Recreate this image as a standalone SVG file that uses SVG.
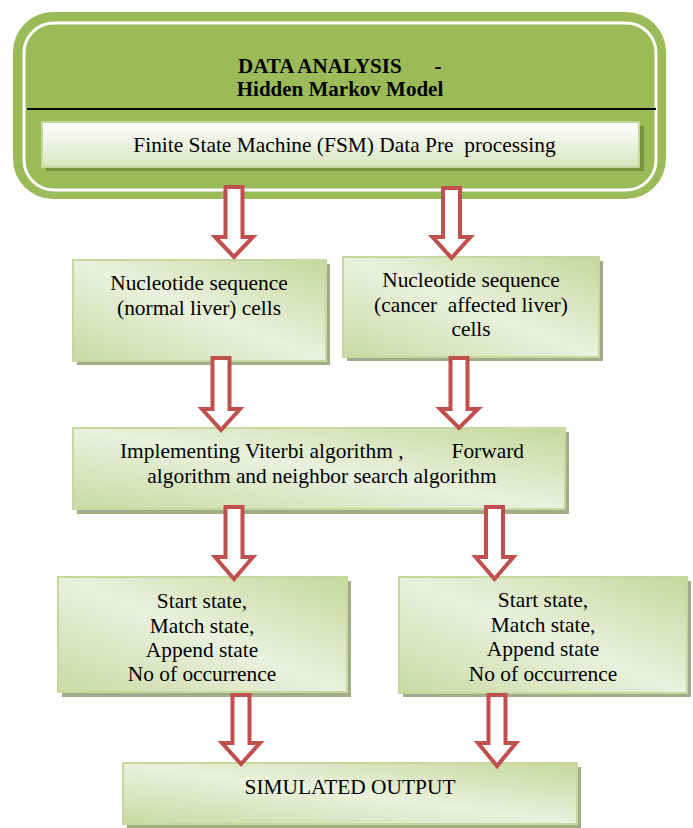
<svg xmlns="http://www.w3.org/2000/svg" width="693" height="828" viewBox="0 0 693 828">
<style>
.t{font-family:"Liberation Serif","Times New Roman",serif;font-size:21.4px;fill:#000;text-anchor:middle}
.b{font-weight:bold;font-size:21px}
.box{fill:url(#g);stroke:#c6d8a0;stroke-width:2}
.sh{fill:#a3ac88}
.arr{fill:#fff;stroke:#c0504d;stroke-width:4;stroke-linejoin:miter}
</style>
<defs>
<linearGradient id="g" x1="0" y1="1" x2="1" y2="0">
<stop offset="0" stop-color="#c9daa4"/>
<stop offset="0.5" stop-color="#eaf1dd"/>
<stop offset="1" stop-color="#c5d89c"/>
</linearGradient>
<linearGradient id="w" x1="0" y1="0" x2="0" y2="1">
<stop offset="0" stop-color="#ffffff"/>
<stop offset="1" stop-color="#d9e5c0"/>
</linearGradient>
</defs>
<g id="header">
<rect x="13" y="12" width="653" height="187" rx="40" fill="#9bbb59"/>
<rect x="24" y="23" width="632" height="167" rx="30" fill="none" stroke="#fff" stroke-width="3"/>
<line x1="27" y1="109" x2="656" y2="109" stroke="#000" stroke-width="2"/>
<text class="t b" x="238" y="73" style="text-anchor:start">DATA ANALYSIS</text>
<text class="t b" x="438" y="73">-</text>
<text class="t b" x="340" y="96">Hidden Markov Model</text>
</g>
<g id="fsm">
<rect x="46" y="126" width="598" height="45" fill="#77933c"/>
<rect x="42" y="122" width="597" height="45" fill="url(#w)" stroke="#c3d69b" stroke-width="2"/>
<text class="t" x="344.5" y="152" xml:space="preserve">Finite State Machine (FSM) Data Pre  processing</text>
</g>
<g id="normal">
<rect class="sh" x="77" y="264" width="253" height="101"/>
<rect class="box" x="73" y="260" width="253" height="101"/>
<text class="t" x="199" y="290">Nucleotide sequence</text>
<text class="t" x="199" y="315">(normal liver) cells</text>
</g>
<g id="cancer">
<rect class="sh" x="347" y="261" width="256" height="100"/>
<rect class="box" x="343" y="257" width="256" height="100"/>
<text class="t" x="471" y="287">Nucleotide sequence</text>
<text class="t" x="471" y="312" xml:space="preserve">(cancer  affected liver)</text>
<text class="t" x="471" y="336">cells</text>
</g>
<g id="algo">
<rect class="sh" x="77" y="432" width="492" height="82"/>
<rect class="box" x="73" y="428" width="492" height="81"/>
<text class="t" x="120" y="458" style="text-anchor:start">Implementing Viterbi algorithm ,</text>
<text class="t" x="524" y="458" style="text-anchor:end">Forward</text>
<text class="t" x="322" y="483">algorithm and neighbor search algorithm</text>
</g>
<g id="states-left">
<rect class="sh" x="62" y="581" width="289" height="116"/>
<rect class="box" x="58" y="577" width="289" height="115"/>
<text class="t" x="202" y="608">Start state,</text>
<text class="t" x="202" y="633">Match state,</text>
<text class="t" x="202" y="657">Append state</text>
<text class="t" x="202" y="681">No of occurrence</text>
</g>
<g id="states-right">
<rect class="sh" x="403" y="581" width="288" height="116"/>
<rect class="box" x="399" y="577" width="288" height="116"/>
<text class="t" x="543" y="607">Start state,</text>
<text class="t" x="543" y="632">Match state,</text>
<text class="t" x="543" y="656">Append state</text>
<text class="t" x="543" y="681">No of occurrence</text>
</g>
<g id="output">
<rect class="sh" x="127" y="767" width="454" height="61"/>
<rect class="box" x="123" y="763" width="454" height="61"/>
<text class="t" x="350" y="794">SIMULATED OUTPUT</text>
</g>
<g id="connectors">
<polygon class="arr" points="225.5,187 242.5,187 242.5,237 253,237 234,257 215,237 225.5,237"/>
<polygon class="arr" points="443,188 460,188 460,237 470.5,237 451.5,258 432.5,237 443,237"/>
<polygon class="arr" points="212.5,358 229.5,358 229.5,409 240,409 221,430 202,409 212.5,409"/>
<polygon class="arr" points="450.5,358 467.5,358 467.5,409 478,409 459,428 440,409 450.5,409"/>
<polygon class="arr" points="225.5,507 242.5,507 242.5,557 253,557 234,579 215,557 225.5,557"/>
<polygon class="arr" points="486,507 503,507 503,557 513.5,557 494.5,579 475.5,557 486,557"/>
<polygon class="arr" points="232.5,695 249.5,695 249.5,743 260,743 241,764 222,743 232.5,743"/>
<polygon class="arr" points="488.5,695 505.5,695 505.5,743 516,743 497,766 478,743 488.5,743"/>
</g>
</svg>
